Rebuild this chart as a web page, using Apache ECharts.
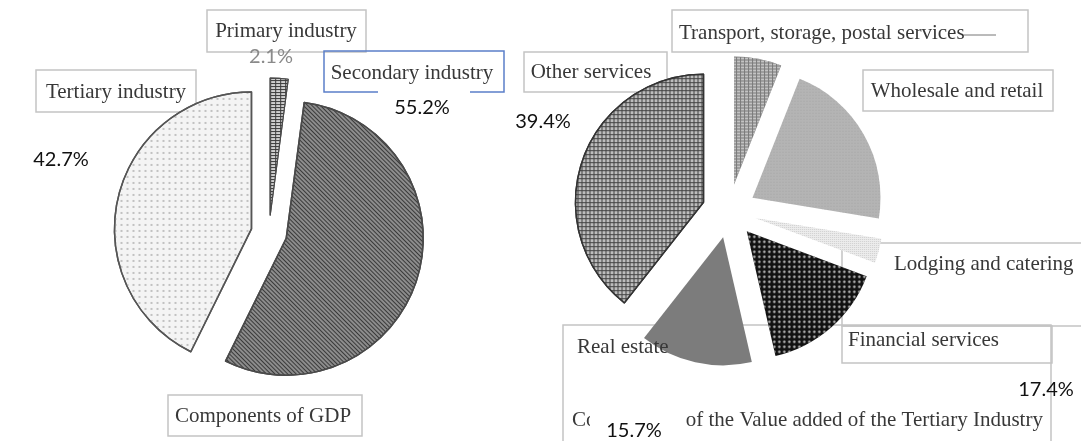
<!DOCTYPE html>
<html>
<head>
<meta charset="utf-8">
<script src="https://cdn.jsdelivr.net/npm/echarts@6/dist/echarts.min.js"></script>
<style>
  html, body { margin: 0; padding: 0; background: #fff; }
  #chart { width: 1081px; height: 441px; }
</style>
</head>
<body>
<div id="chart"></div>
<script>
// left pie: components of GDP
var gdpNames = ['Primary industry', 'Secondary industry', 'Tertiary industry'];
var gdpValues = [2.1, 55.2, 42.7];

// right pie: tertiary industry breakdown
var tertNames = ['Transport, storage, postal services', 'Wholesale and retail', 'Lodging and catering',
  'Financial services', 'Real estate', 'Other services'];
var tertValues = [6.0, 21.6, 3.1, 15.7, 14.2, 39.4];
// percentages printed over the right chart
var tertPctText = ['17.4%', '15.7%'];

var serif = '"Liberation Serif", "Times New Roman", serif';
var sans = 'Lato, "Open Sans", sans-serif';

var gdpStyles = [
  { color: '#3c3c3c', borderColor: '#4a4a4a', borderWidth: 1.2,
    decal: { symbol: 'rect', symbolSize: 1, color: '#d0d0d0', dashArrayX: [4, 1], dashArrayY: [2, 1] } },
  { color: '#8c8c8c', borderColor: '#4a4a4a', borderWidth: 1.5,
    decal: { symbol: 'rect', symbolSize: 1, color: '#3a3a3a', dashArrayX: [1, 0], dashArrayY: [1, 2], rotation: Math.PI / 4 } },
  { color: '#f4f4f4', borderColor: '#555', borderWidth: 1.5,
    decal: { symbol: 'circle', symbolSize: 1, color: '#b0b0b0', dashArrayX: [2, 4], dashArrayY: [2, 4] } }
];

var tertStyles = [
  { color: '#7a7a7a', borderWidth: 0,
    decal: { symbol: 'rect', symbolSize: 1, color: '#c4c4c4', dashArrayX: [3, 1], dashArrayY: [2, 1] } },
  { color: '#b4b4b4', borderWidth: 0,
    decal: { symbol: 'circle', symbolSize: 1, color: '#a0a0a0', dashArrayX: [1, 2], dashArrayY: [1, 2] } },
  { color: '#ececec', borderWidth: 0,
    decal: { symbol: 'rect', symbolSize: 1, color: '#cfcfcf', dashArrayX: [1, 1], dashArrayY: [1, 1] } },
  { color: '#111', borderWidth: 0,
    decal: { symbol: 'circle', symbolSize: 0.8, color: '#c4c4c4', dashArrayX: [2.5, 1.5], dashArrayY: [2.5, 1.5] } },
  { color: '#7c7c7c', borderWidth: 0 },
  { color: '#444', borderColor: '#333', borderWidth: 1.5,
    decal: { symbol: 'rect', symbolSize: 1, color: '#bdbdbd', dashArrayX: [3, 1], dashArrayY: [3, 1] } }
];

function makeData(names, values, styles) {
  return names.map(function (n, i) {
    return {
      name: n,
      value: values[i],
      selected: true,
      itemStyle: styles[i],
      select: { itemStyle: styles[i] }
    };
  });
}

function box(x, y, w, h, color) {
  return {
    type: 'rect', z: 1,
    shape: { x: x, y: y, width: w, height: h },
    style: { fill: 'none', stroke: color || '#c4c4c4', lineWidth: 1.5 }
  };
}

function txt(x, y, text, opts) {
  opts = opts || {};
  return {
    type: 'text', z: opts.z || 100, x: x, y: y,
    style: {
      text: text,
      font: opts.font || ('21px ' + serif),
      fill: opts.fill || '#383838',
      align: opts.align || 'center',
      verticalAlign: 'middle',
      textAlign: opts.align || 'center',
      textVerticalAlign: 'middle'
    }
  };
}

function whiteRect(x, y, w, h) {
  return { type: 'rect', z: 50, shape: { x: x, y: y, width: w, height: h }, style: { fill: '#fff' } };
}

var pctFont = '20px ' + sans;

var myChart = echarts.init(document.getElementById('chart'));

var option = {
  backgroundColor: '#fff',
  animation: false,
  series: [
    {
      type: 'pie',
      center: [269, 233],
      radius: 137,
      startAngle: 90,
      clockwise: true,
      selectedMode: 'multiple',
      selectedOffset: 18,
      label: { show: false },
      labelLine: { show: false },
      emphasis: { disabled: true },
      data: makeData(gdpNames, gdpValues, gdpStyles)
    },
    {
      type: 'pie',
      center: [729, 211],
      radius: 128,
      startAngle: 90,
      clockwise: true,
      selectedMode: 'multiple',
      selectedOffset: 27,
      label: { show: false },
      labelLine: { show: false },
      emphasis: { disabled: true },
      data: makeData(tertNames, tertValues, tertStyles)
    }
  ],
  graphic: [
    // left chart boxes and labels
    box(207, 10, 159, 42),
    txt(286, 31, gdpNames[0]),
    txt(271, 57, gdpValues[0].toFixed(1) + '%', { font: pctFont, fill: '#8a8a8a' }),
    box(324, 51, 180, 41, '#5b7fc9'),
    whiteRect(378, 88, 92, 8),
    txt(412, 73, gdpNames[1]),
    txt(422, 108, gdpValues[1].toFixed(1) + '%', { font: pctFont, fill: '#111' }),
    box(36, 70, 160, 42),
    txt(116, 92, gdpNames[2]),
    txt(61, 160, gdpValues[2].toFixed(1) + '%', { font: pctFont, fill: '#111' }),
    box(168, 395, 194, 41),
    txt(263, 416, 'Components of GDP'),

    // right chart boxes and labels
    box(672, 10, 356, 42),
    txt(679, 33, tertNames[0], { align: 'left' }),
    { type: 'line', z: 100, shape: { x1: 964, y1: 35, x2: 996, y2: 35 }, style: { stroke: '#777', lineWidth: 1 } },
    box(524, 52, 143, 40),
    txt(591, 72, tertNames[5]),
    txt(543, 122, tertValues[5].toFixed(1) + '%', { font: pctFont, fill: '#111' }),
    box(863, 70, 190, 41),
    txt(957, 91, tertNames[1]),
    box(842, 243, 260, 83),
    txt(894, 264, tertNames[2], { align: 'left' }),
    box(842, 326, 210, 37),
    txt(848, 340, tertNames[3], { align: 'left' }),
    box(563, 325, 488, 130),
    txt(577, 347, tertNames[4], { align: 'left' }),
    txt(572, 420, 'Composition of the Value added of the Tertiary Industry', { align: 'left', z: 10 }),
    whiteRect(590, 411, 93, 30),
    txt(634, 431, tertPctText[1], { font: pctFont, fill: '#111' }),
    txt(1046, 390, tertPctText[0], { font: pctFont, fill: '#111' })
  ]
};

myChart.setOption(option);
</script>
</body>
</html>
